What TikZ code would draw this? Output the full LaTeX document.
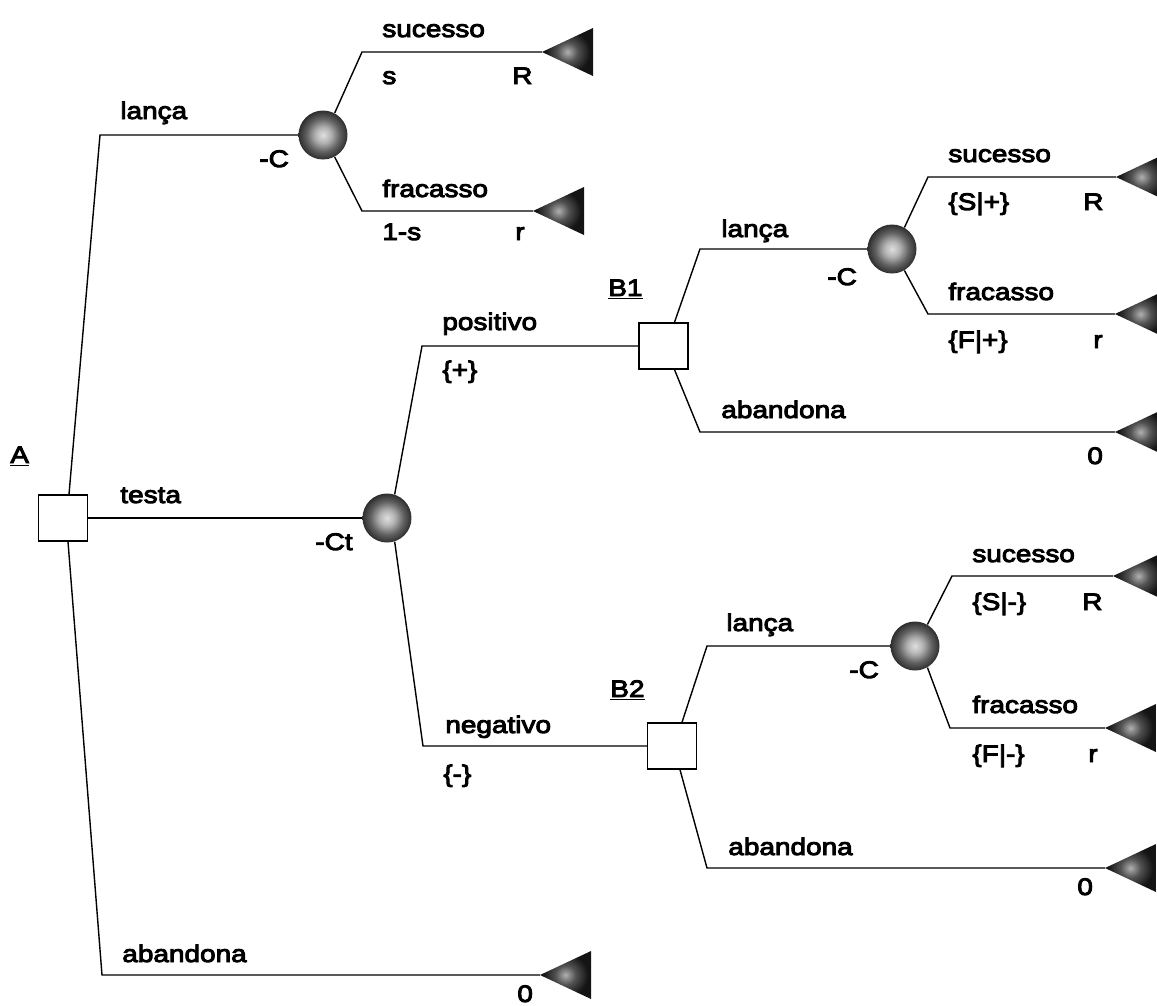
\documentclass[tikz,border=0pt]{standalone}
\usepackage{fontspec}
\setmainfont{Liberation Sans}[FakeStretch=1.17,FakeBold=4]
\usetikzlibrary{calc}
\pgfdeclareradialshading{ballshade}{\pgfpoint{0bp}{0bp}}{color(0bp)=(gray!25); color(8bp)=(gray!60); color(17bp)=(black!62); color(25bp)=(black!82); color(50bp)=(black!82)}
\pgfdeclareradialshading{leafshade}{\pgfpoint{0bp}{0bp}}{color(0bp)=(gray!62); color(10bp)=(black!68); color(22bp)=(black!92); color(50bp)=(black!92)}
\tikzset{
  dec/.style={draw=black, fill=white, line width=0.8pt, minimum width=0.98cm, minimum height=0.92cm, inner sep=0pt},
  chance/.style={circle, shading=ballshade, minimum size=0.98cm, inner sep=0pt},
  leaftri/.style={shading=leafshade},
  branch/.style={draw=black, line width=0.8pt},
  lbl/.style={anchor=base west, inner sep=0pt, font=\fontsize{13.6}{15}\selectfont}
}
\begin{document}
\begin{tikzpicture}[x=0.02cm, y=-0.02cm]
\useasboundingbox (0,0) rectangle (1157,1005);
\clip (0,0) rectangle (1157,1005);
\fill[white] (0,0) rectangle (1157,1005);

% decision and chance nodes
\node[dec] (A) at (63,518) {};
\node[chance] (C1) at (323,135) {};
\node[chance] (C2) at (387,518) {};
\node[dec] (B1) at (663.5,346) {};
\node[dec] (B2) at (672,746) {};
\node[chance] (C3) at (892,249) {};
\node[chance] (C4) at (915,646) {};

% leaf tips
\coordinate (L1) at (542,52);
\coordinate (L2) at (533,211);
\coordinate (L3) at (1116,177);
\coordinate (L4) at (1115,314);
\coordinate (L5) at (1115,432);
\coordinate (L6) at (1113,576);
\coordinate (L7) at (1105,728);
\coordinate (L8) at (1105,868);
\coordinate (L9) at (540,975);
\foreach \t in {L1,L2,L3,L4,L5,L6,L7,L8,L9}{
  \shade[leaftri] (\t) -- ++(51,-24) -- ++(0,48) -- cycle;
}

% corners
\coordinate (a1) at (100,135);
\coordinate (a2) at (102,975);
\coordinate (c1u) at (362,52);
\coordinate (c1d) at (362,211);
\coordinate (c2u) at (422,346);
\coordinate (c2d) at (423,746);
\coordinate (b1u) at (700,249);
\coordinate (b1d) at (700,432);
\coordinate (c3u) at (928,177);
\coordinate (c3d) at (928,314);
\coordinate (b2u) at (707,646);
\coordinate (b2d) at (707,868);
\coordinate (c4u) at (952,576);
\coordinate (c4d) at (950,728);

% branches
\draw[branch] ($(A.north)+(6,0)$) -- (a1) -- (C1.west);
\draw[branch] (C1.62) -- (c1u) -- (L1);
\draw[branch] (C1.-62) -- (c1d) -- (L2);
\draw[branch] (A.east) -- (C2.west);
\draw[branch] (C2.72) -- (c2u) -- (B1.west);
\draw[branch] (C2.-72) -- (c2d) -- (B2.west);
\draw[branch] ($(B1.north)+(11,0)$) -- (b1u) -- (C3.west);
\draw[branch] (C3.60) -- (c3u) -- (L3);
\draw[branch] (C3.-60) -- (c3d) -- (L4);
\draw[branch] ($(B1.south)+(11,0)$) -- (b1d) -- (L5);
\draw[branch] ($(B2.north)+(10,0)$) -- (b2u) -- (C4.west);
\draw[branch] (C4.60) -- (c4u) -- (L6);
\draw[branch] (C4.-60) -- (c4d) -- (L7);
\draw[branch] ($(B2.south)+(8,0)$) -- (b2d) -- (L8);
\draw[branch] ($(A.south)+(5,0)$) -- (a2) -- (L9);

% labels
\node[lbl] (tA) at (10,463) {\underline{A}};
\node[lbl] (tB1) at (608,296) {\underline{B1}};
\node[lbl] (tB2) at (610,697) {\underline{B2}};

\node[lbl] (l1) at (120,119) {lança};
\node[lbl] (l2) at (259,167) {-C};
\node[lbl] (l3) at (382,37) {sucesso};
\node[lbl] (l4) at (382,84) {s};
\node[lbl] (l5) at (512,84) {R};
\node[lbl] (l6) at (382,197) {fracasso};
\node[lbl] (l7) at (382,240) {1-s};
\node[lbl] (l8) at (515,240) {r};

\node[lbl] (l9) at (120,503) {testa};
\node[lbl] (l10) at (315,550) {-Ct};

\node[lbl] (l11) at (442,330) {positivo};
\node[lbl] (l12) at (442,378) {\{+\}};
\node[lbl] (l13) at (445,733) {negativo};
\node[lbl] (l14) at (443,782) {\{-\}};

\node[lbl] (l15) at (721,237) {lança};
\node[lbl] (l16) at (827,285) {-C};
\node[lbl] (l17) at (948,162) {sucesso};
\node[lbl] (l18) at (948,210) {\{S|+\}};
\node[lbl] (l19) at (1083,210) {R};
\node[lbl] (l20) at (948,300) {fracasso};
\node[lbl] (l21) at (948,348) {\{F|+\}};
\node[lbl] (l22) at (1093,348) {r};
\node[lbl] (l23) at (721,418) {abandona};
\node[lbl] (l24) at (1087,464) {0};

\node[lbl] (l25) at (726,631) {lança};
\node[lbl] (l26) at (849,678) {-C};
\node[lbl] (l27) at (972,562) {sucesso};
\node[lbl] (l28) at (972,610) {\{S|-\}};
\node[lbl] (l29) at (1082,610) {R};
\node[lbl] (l30) at (972,713) {fracasso};
\node[lbl] (l31) at (972,762) {\{F|-\}};
\node[lbl] (l32) at (1088,762) {r};
\node[lbl] (l33) at (728,855) {abandona};
\node[lbl] (l34) at (1077,895) {0};

\node[lbl] (l35) at (122,962) {abandona};
\node[lbl] (l36) at (517,1002) {0};
\end{tikzpicture}
\end{document}
